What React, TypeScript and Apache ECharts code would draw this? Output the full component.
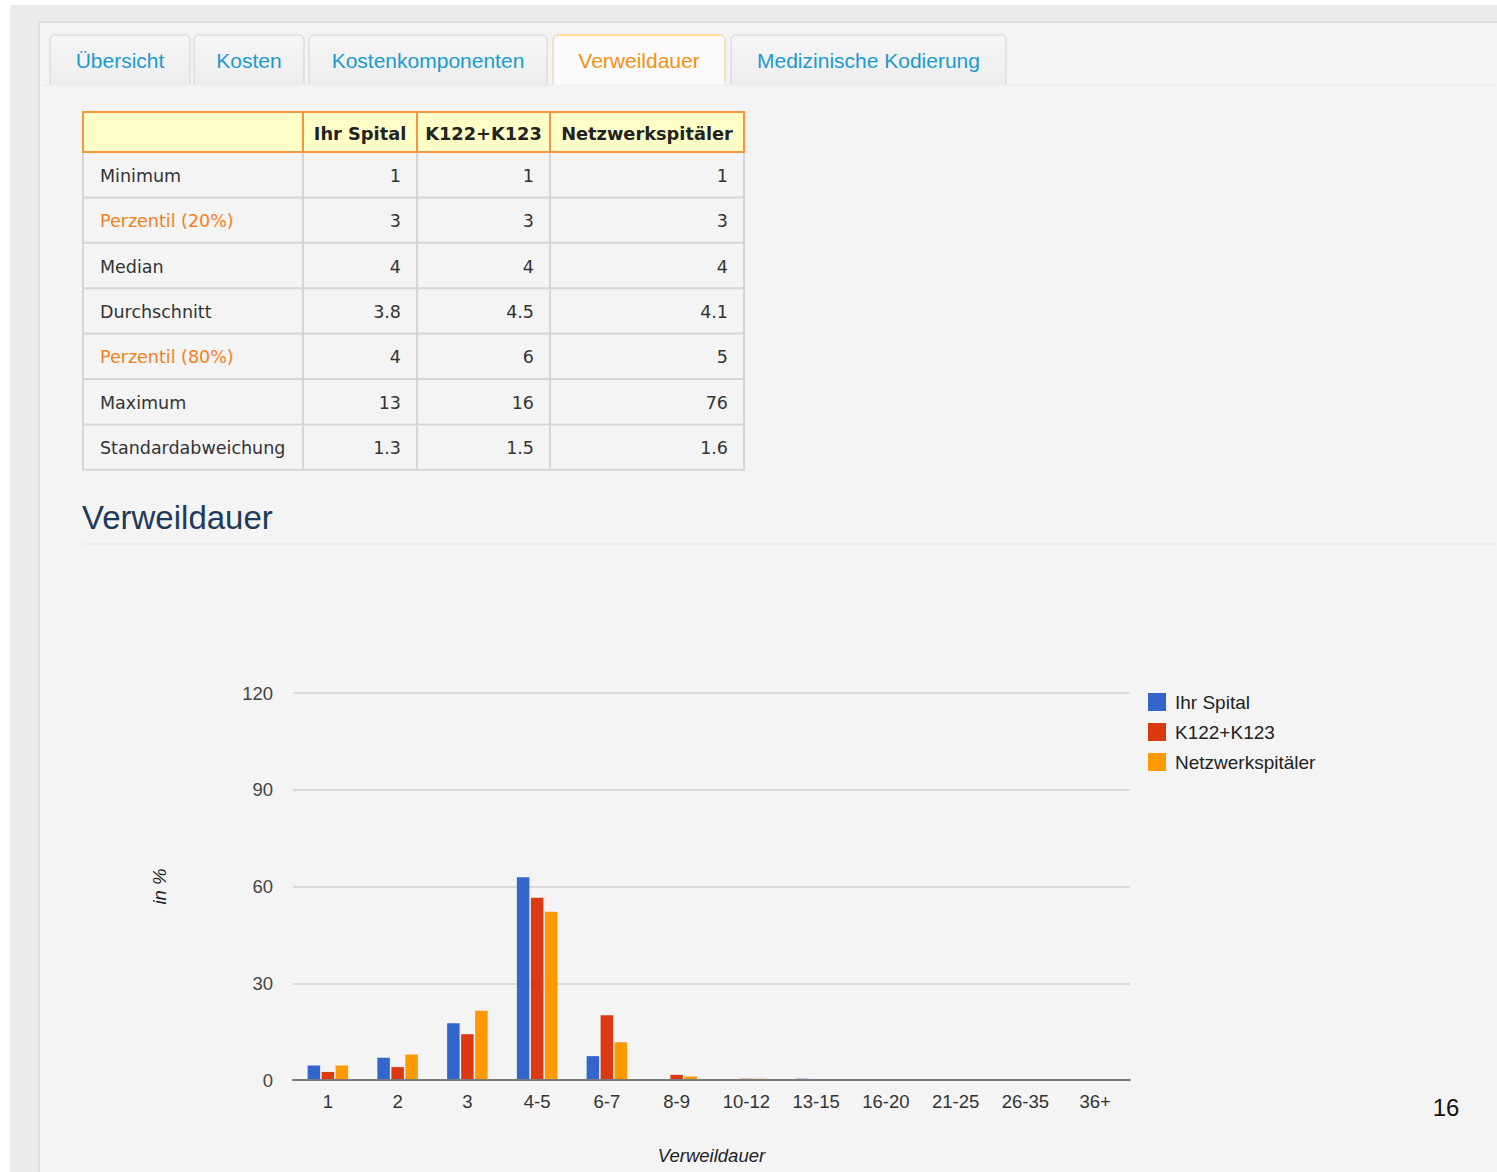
import React, { useEffect, useRef } from "react";
import * as echarts from "echarts";

// ---- data ----
const tabLabels = ["Übersicht", "Kosten", "Kostenkomponenten", "Verweildauer", "Medizinische Kodierung"];
const activeTab = "Verweildauer";

const tableHeaders = ["", "Ihr Spital", "K122+K123", "Netzwerkspitäler"];
const statLabels = ["Minimum", "Perzentil (20%)", "Median", "Durchschnitt", "Perzentil (80%)", "Maximum", "Standardabweichung"];
const highlightedStats = ["Perzentil (20%)", "Perzentil (80%)"];
const statIhrSpital = ["1", "3", "4", "3.8", "4", "13", "1.3"];
const statK122K123 = ["1", "3", "4", "4.5", "6", "16", "1.5"];
const statNetzwerk = ["1", "3", "4", "4.1", "5", "76", "1.6"];

const chartHeading = "Verweildauer";
const categories = ["1", "2", "3", "4-5", "6-7", "8-9", "10-12", "13-15", "16-20", "21-25", "26-35", "36+"];
const seriesNames = ["Ihr Spital", "K122+K123", "Netzwerkspitäler"];
const ihrSpital = [4.5, 6.9, 17.6, 62.9, 7.4, 0.3, 0.1, 0.4, 0, 0, 0, 0];
const k122k123 = [2.5, 4.0, 14.2, 56.5, 20.1, 1.6, 0.4, 0.2, 0, 0, 0, 0];
const netzwerk = [4.5, 7.9, 21.5, 52.2, 11.7, 1.1, 0.4, 0.1, 0, 0, 0, 0];
const yMin = 0;
const yMax = 120;
const yInterval = 30;
const xAxisName = "Verweildauer";
const yAxisName = "in %";
const pageNumber = "16";

// ---- layout / styles ----
const W = 1497;
const H = 1172;
const tabBoxes = [
  [50, 190],
  [194, 304],
  [309, 547],
  [553, 725],
  [731, 1006],
];
const colX = [83, 303, 417, 550, 744];
const headTop = 112;
const headH = 40;
const rowH = 45.4;
const seriesColors = ["#3366cc", "#dc3912", "#ff9900"];
const tabFont = "'Liberation Sans', Arial, sans-serif";
const tableFont = "'DejaVu Sans', Verdana, sans-serif";
const chartFont = "'Liberation Sans', Arial, sans-serif";

function buildGraphic() {
  const els: any[] = [];
  // outer gray area
  els.push({ type: "rect", z: -20, shape: { x: 10, y: 5, width: W - 10, height: H - 5 }, style: { fill: "#ebebeb" } });
  // panel
  els.push({ type: "rect", z: -19, shape: { x: 39, y: 22, width: W, height: H }, style: { fill: "#f4f4f4", stroke: "#dedede", lineWidth: 2 } });

  // tabs
  tabLabels.forEach((label, i) => {
    const [x0, x1] = tabBoxes[i];
    const active = label === activeTab;
    els.push({
      type: "rect",
      z: -5,
      shape: { x: x0, y: 35, width: x1 - x0, height: 50, r: [5, 5, 0, 0] },
      style: active
        ? { fill: "#fbfbfb", stroke: "#f0a42a", lineWidth: 1, lineDash: [1, 1] }
        : {
            fill: new echarts.graphic.LinearGradient(0, 0, 0, 1, [
              { offset: 0, color: "#f6f6f6" },
              { offset: 1, color: "#ededed" },
            ]),
            stroke: "#d4d4d4",
            lineWidth: 1,
          },
    });
    els.push({
      type: "text",
      z: -4,
      style: {
        x: (x0 + x1) / 2,
        y: 60,
        text: label,
        align: "center",
        verticalAlign: "middle",
        fill: active ? "#f39016" : "#1c9ad0",
        font: `21px ${tabFont}`,
      },
    });
  });
  // baseline under tabs (dotted)
  els.push({ type: "rect", z: -3, shape: { x: 44, y: 84, width: W, height: 3 }, style: { fill: "#f4f4f4" } });
  els.push({ type: "line", z: -3, shape: { x1: 44, y1: 85, x2: 553, y2: 85 }, style: { stroke: "#d6d6d6", lineWidth: 1, lineDash: [1, 1] } });
  els.push({ type: "line", z: -3, shape: { x1: 725, y1: 85, x2: W, y2: 85 }, style: { stroke: "#d6d6d6", lineWidth: 1, lineDash: [1, 1] } });

  // table body
  const bodyTop = headTop + headH;
  const nRows = statLabels.length;
  const bodyBottom = bodyTop + nRows * rowH;
  els.push({
    type: "rect",
    z: -2,
    shape: { x: colX[0], y: bodyTop, width: colX[4] - colX[0], height: bodyBottom - bodyTop },
    style: { fill: "#f4f4f4", stroke: "#d6d6d6", lineWidth: 2 },
  });
  for (let r = 1; r < nRows; r++) {
    const y = bodyTop + r * rowH;
    els.push({ type: "line", z: -2, shape: { x1: colX[0], y1: y, x2: colX[4], y2: y }, style: { stroke: "#d6d6d6", lineWidth: 2 } });
  }
  for (let c = 1; c < 4; c++) {
    els.push({ type: "line", z: -2, shape: { x1: colX[c], y1: bodyTop, x2: colX[c], y2: bodyBottom }, style: { stroke: "#d6d6d6", lineWidth: 2 } });
  }
  // header
  els.push({
    type: "rect",
    z: -1,
    shape: { x: colX[0], y: headTop, width: colX[4] - colX[0], height: headH },
    style: { fill: "#ffffc8", stroke: "#f7953f", lineWidth: 2 },
  });
  for (let c = 1; c < 4; c++) {
    els.push({ type: "line", z: -1, shape: { x1: colX[c], y1: headTop, x2: colX[c], y2: headTop + headH }, style: { stroke: "#f7953f", lineWidth: 2 } });
  }
  tableHeaders.forEach((h, c) => {
    if (!h) return;
    els.push({
      type: "text",
      z: 0,
      style: {
        x: (colX[c] + colX[c + 1]) / 2,
        y: headTop + headH / 2 + 1,
        text: h,
        align: "center",
        verticalAlign: "middle",
        fill: "#222222",
        font: `bold 17.8px ${tableFont}`,
      },
    });
  });
  const cols = [statIhrSpital, statK122K123, statNetzwerk];
  statLabels.forEach((lab, r) => {
    const yc = bodyTop + r * rowH + rowH / 2 + 1;
    els.push({
      type: "text",
      z: 0,
      style: {
        x: 100,
        y: yc,
        text: lab,
        align: "left",
        verticalAlign: "middle",
        fill: highlightedStats.includes(lab) ? "#f57f20" : "#333333",
        font: `17.5px ${tableFont}`,
      },
    });
    cols.forEach((col, c) => {
      els.push({
        type: "text",
        z: 0,
        style: {
          x: colX[c + 2] - 16,
          y: yc,
          text: col[r],
          align: "right",
          verticalAlign: "middle",
          fill: "#333333",
          font: `17.5px ${tableFont}`,
        },
      });
    });
  });

  // heading
  els.push({
    type: "text",
    z: 0,
    style: { x: 82, y: 517, text: chartHeading, align: "left", verticalAlign: "middle", fill: "#1e3b5b", font: `33px ${tabFont}` },
  });
  els.push({ type: "line", z: 0, shape: { x1: 83, y1: 544, x2: W, y2: 544 }, style: { stroke: "#d9d9d9", lineWidth: 1, lineDash: [1, 1] } });

  // page number
  els.push({
    type: "text",
    z: 0,
    style: { x: 1446, y: 1107, text: pageNumber, align: "center", verticalAlign: "middle", fill: "#111111", font: `24px ${chartFont}` },
  });
  return els;
}

export default function App() {
  const ref = useRef<HTMLDivElement>(null);
  useEffect(() => {
    if (!ref.current) return;
    const chart = echarts.init(ref.current, undefined, { renderer: "svg" });
    const seriesData = [ihrSpital, k122k123, netzwerk];
    chart.setOption({
      animation: false,
      backgroundColor: "#ffffff",
      textStyle: { fontFamily: chartFont },
      graphic: { elements: buildGraphic() },
      color: seriesColors,
      legend: {
        orient: "vertical",
        left: 1148,
        top: 692.5,
        padding: 0,
        icon: "rect",
        itemWidth: 18,
        itemHeight: 18,
        itemGap: 11,
        data: seriesNames,
        textStyle: { fontSize: 19, color: "#222222", fontFamily: chartFont, padding: [0, 0, 0, 4] },
      },
      grid: { left: 293, top: 693, width: 1130 - 293, height: 387, containLabel: false },
      xAxis: {
        type: "category",
        data: categories,
        z: 5,
        axisTick: { show: false },
        axisLine: { lineStyle: { color: "#7a7a7a", width: 2 } },
        axisLabel: { fontSize: 18.5, color: "#333333", margin: 12, interval: 0, fontFamily: chartFont },
        name: xAxisName,
        nameLocation: "middle",
        nameGap: 66,
        nameTextStyle: { fontStyle: "italic", fontSize: 18.5, color: "#222222", fontFamily: chartFont },
      },
      yAxis: {
        type: "value",
        min: yMin,
        max: yMax,
        interval: yInterval,
        axisLine: { show: false },
        axisTick: { show: false },
        splitLine: { lineStyle: { color: "#dadada", width: 2 } },
        axisLabel: { fontSize: 18.5, color: "#444444", margin: 20, fontFamily: chartFont },
        name: yAxisName,
        nameLocation: "middle",
        nameGap: 124,
        nameTextStyle: { fontStyle: "italic", fontSize: 18.5, color: "#222222", fontFamily: chartFont },
      },
      series: seriesNames.map((name, i) => ({
        name,
        type: "bar",
        data: seriesData[i],
        barWidth: 12.5,
        barGap: "12%",
        itemStyle: { color: seriesColors[i] },
      })),
    });
    return () => chart.dispose();
  }, []);
  return <div ref={ref} style={{ position: "absolute", left: 0, top: 0, width: W, height: H }} />;
}
